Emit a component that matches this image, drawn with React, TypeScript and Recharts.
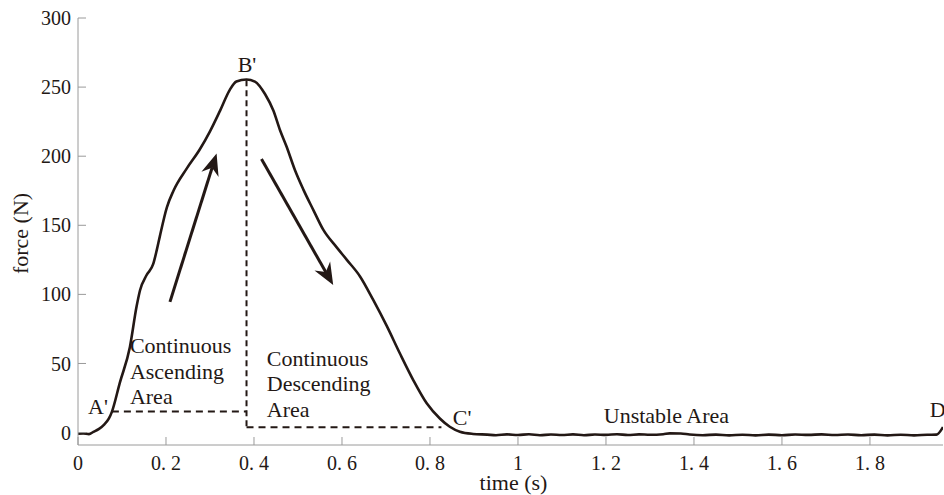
import React from 'react';
import { LineChart, Line, XAxis, YAxis, ReferenceLine, ReferenceDot } from 'recharts';

// time (s) and force (N)
const times = [
  0, 0.012, 0.025, 0.035, 0.047, 0.06, 0.07, 0.077, 0.095, 0.118, 0.133, 0.141, 0.156, 0.171, 0.179,
  0.186, 0.202, 0.217, 0.247, 0.277, 0.3, 0.323, 0.345, 0.36, 0.383, 0.402, 0.425, 0.444, 0.459,
  0.474, 0.493, 0.512, 0.535, 0.557, 0.588, 0.611, 0.641, 0.671, 0.702, 0.732, 0.762, 0.793, 0.823,
  0.845, 0.868, 0.898, 0.93, 0.95, 0.975, 1.0, 1.025, 1.05, 1.075, 1.1, 1.125, 1.15, 1.175, 1.2,
  1.225, 1.25, 1.275, 1.3, 1.33, 1.345, 1.37, 1.39, 1.42, 1.45, 1.48, 1.51, 1.54, 1.57, 1.6, 1.63,
  1.66, 1.69, 1.72, 1.75, 1.78, 1.81, 1.84, 1.87, 1.9, 1.93, 1.951, 1.966,
];
const forces = [
  -0.8, -0.6, -1.1, 0.5, 2.5, 6, 10, 15, 36, 62, 91, 103, 114, 122, 132,
  142, 163, 175, 191, 205, 218, 233, 248, 254, 255.5, 254, 245, 233, 219,
  207, 190, 176, 161, 147, 134, 125, 113, 96, 77, 57, 38, 21, 10,
  4.2, 0.6, -1, -1.5, -1.9, -1.3, -1.8, -1.2, -1.9, -1.4, -1.8, -1.3, -1.9, -1.4, -1.7,
  -1.2, -1.8, -1.3, -1.6, -1.2, -0.6, -0.7, -1.4, -1.9, -1.5, -2.0, -1.6, -2.0, -1.5, -1.9, -1.4,
  -1.7, -1.3, -1.8, -1.4, -1.9, -1.5, -2.0, -1.6, -2.0, -1.6, -1.5, 4,
];

const xTicks = [0, 0.2, 0.4, 0.6, 0.8, 1, 1.2, 1.4, 1.6, 1.8];
const xTickLabels = ['0', '0. 2', '0. 4', '0. 6', '0. 8', '1', '1. 2', '1. 4', '1. 6', '1. 8'];
const yTicks = [0, 50, 100, 150, 200, 250, 300];

// dashed guide lines [x1, y1, x2, y2]
const guides = [
  [0.077, 15.3, 0.383, 15.3],
  [0.383, 255, 0.383, 4],
  [0.383, 3.8, 0.826, 3.8],
];

// arrows [tailX, tailY, tipX, tipY]
const arrows = [
  [0.209, 94.6, 0.315, 202],
  [0.417, 198, 0.58, 106.7],
];

// annotation texts: x, y (baseline of first line), lines, anchor
const notes: { x: number; y: number; lines: string[]; anchor: string }[] = [
  { x: 0.023, y: 13.4, lines: ["A'"], anchor: 'start' },
  { x: 0.384, y: 260.9, lines: ["B'"], anchor: 'middle' },
  { x: 0.852, y: 5.4, lines: ["C'"], anchor: 'start' },
  { x: 1.936, y: 11.2, lines: ['D'], anchor: 'start' },
  { x: 1.195, y: 6.9, lines: ['Unstable Area'], anchor: 'start' },
  { x: 0.118, y: 57.3, lines: ['Continuous', 'Ascending', 'Area'], anchor: 'start' },
  { x: 0.429, y: 48.1, lines: ['Continuous', 'Descending', 'Area'], anchor: 'start' },
];

const data = times.map((t, i) => ({ t, f: forces[i] }));

const INK = '#231815';
const AXIS = '#9a9a9a';
const FONT = '"Liberation Serif", "Times New Roman", serif';

const Arrow = (p: any) => {
  const { x1, y1, x2, y2 } = p;
  const dx = x2 - x1;
  const dy = y2 - y1;
  const len = Math.sqrt(dx * dx + dy * dy);
  const ux = dx / len;
  const uy = dy / len;
  const head = 22;
  const half = 9;
  const notch = 15;
  const bx = x2 - ux * head;
  const by = y2 - uy * head;
  const nx = x2 - ux * notch;
  const ny = y2 - uy * notch;
  const pts = [
    `${x2},${y2}`,
    `${bx - uy * half},${by + ux * half}`,
    `${nx},${ny}`,
    `${bx + uy * half},${by - ux * half}`,
  ].join(' ');
  return (
    <g>
      <line x1={x1} y1={y1} x2={nx} y2={ny} stroke={INK} strokeWidth={3} />
      <polygon points={pts} fill={INK} />
    </g>
  );
};

const YLabel = (props: any) => {
  const { x, y, height } = props.viewBox;
  const cx = x + 20;
  const cy = y + height / 2 + 2;
  return (
    <text x={cx} y={cy} transform={`rotate(-90, ${cx}, ${cy})`} textAnchor="middle"
      dominantBaseline="central" fontSize={22} fill={INK} fontFamily={FONT}>
      force (N)
    </text>
  );
};

const XLabel = (props: any) => {
  const { x, y, width } = props.viewBox;
  return (
    <text x={x + width / 2 + 3} y={y + 45} textAnchor="middle" fontSize={22} fill={INK} fontFamily={FONT}>
      time (s)
    </text>
  );
};

export default function App() {
  return (
    <div style={{ position: 'absolute', left: 0, top: 0, background: '#fff' }}>
      <LineChart width={944} height={495} data={data}
        margin={{ top: 18, right: 1, bottom: 0, left: 0 }}
        style={{ fontFamily: FONT }}>
        <XAxis dataKey="t" type="number" domain={[0, 1.966]} ticks={xTicks} allowDataOverflow
          tickFormatter={(v: number, i: number) => xTickLabels[i]}
          height={50} stroke={AXIS} tickSize={-8} tickMargin={19}
          tick={{ fill: INK, fontSize: 20 }} label={<XLabel />} />
        <XAxis xAxisId="top" orientation="top" dataKey="t" type="number" domain={[0, 1.966]}
          ticks={xTicks} allowDataOverflow height={0} stroke={AXIS} tickSize={-8} tick={false} />
        <YAxis type="number" domain={[-9, 300]} ticks={yTicks} allowDataOverflow width={78}
          stroke={AXIS} tickSize={-8} tickMargin={15}
          tick={{ fill: INK, fontSize: 20 }} label={<YLabel />} />
        {guides.map((g, i) => (
          <ReferenceLine key={'g' + i} segment={[{ x: g[0], y: g[1] }, { x: g[2], y: g[3] }]}
            stroke={INK} strokeWidth={2} strokeDasharray={i === 1 ? '6 4' : '7 5'} />
        ))}
        {arrows.map((a, i) => (
          <ReferenceLine key={'a' + i} segment={[{ x: a[0], y: a[1] }, { x: a[2], y: a[3] }]}
            shape={Arrow} />
        ))}
        <Line type="monotone" dataKey="f" stroke={INK} strokeWidth={2.6} dot={false}
          isAnimationActive={false} />
        {notes.map((n, i) => (
          <ReferenceDot key={'n' + i} x={n.x} y={n.y} r={0}
            shape={(p: any) => (
              <text x={p.cx} y={p.cy} textAnchor={n.anchor} fontSize={22} fill={INK} fontFamily={FONT}>
                {n.lines.map((l, j) => (
                  <tspan key={j} x={p.cx} dy={j === 0 ? 0 : 25.3}>{l}</tspan>
                ))}
              </text>
            )} />
        ))}
      </LineChart>
    </div>
  );
}
